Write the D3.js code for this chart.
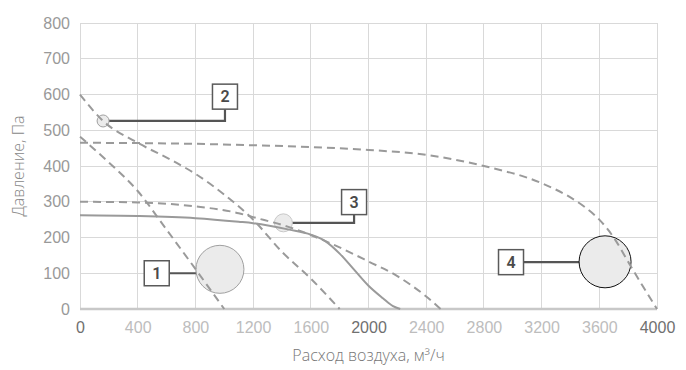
<!DOCTYPE html>
<html><head><meta charset="utf-8">
<script src="https://cdn.jsdelivr.net/npm/d3@7"></script>
<style>
body{margin:0;background:#fff;}
svg{display:block;font-family:"Open Sans","Noto Sans",sans-serif;}
</style></head>
<body><svg id="c" width="686" height="370"></svg>
<script>
// ---- data ----
const xTicks = [0,400,800,1200,1600,2000,2400,2800,3200,3600,4000];
const yTicks = [0,100,200,300,400,500,600,700,800];
const xTitle = "Расход воздуха, м³/ч";
const yTitle = "Давление, Па";

const c1X = [0,200,400,600,800,1000];
const c1Y = [482,410,330,222,112,0];
const c2X = [0,160,400,660,800,1000,1200,1400,1600,1800];
const c2Y = [600,526,465,411,378,320,250,160,85,0];
const c3X = [0,400,800,1100,1200,1450,1730,2000,2200,2400,2500];
const c3Y = [300,298,287,268,257,229,185,133,92,35,0];
const c4X = [0,800,1200,1600,2000,2400,2800,3200,3400,3500,3600,3700,3800,3900,4000];
const c4Y = [465,462,458,453,445,431,400,352,312,285,250,200,132,65,0];
const sX = [0,400,800,1100,1200,1450,1600,1700,1800,1900,2000,2100,2170,2220];
const sY = [262,260,254,244,240,222,208,190,155,110,65,30,8,0];

const markerLabels = ["1","2","3","4"];
const markerX = [970,160,1410,3640];
const markerY = [111,526,241,132];
const markerSize = [24,6,9,26];
const labelX = [532,1005,1900,2988];
const labelY = [100,594,299,131];

// ---- chart ----
const svg = d3.select("#c");
const x = d3.scaleLinear().domain([0,4000]).range([80,657]);
const y = d3.scaleLinear().domain([0,800]).range([309,23]);

// grid
svg.append("g").selectAll("line").data(yTicks.filter(d=>d>0)).join("line")
  .attr("x1",x(0)).attr("x2",x(4000)).attr("y1",d=>y(d)).attr("y2",d=>y(d))
  .attr("stroke","#d9d9d9").attr("stroke-width",1).attr("shape-rendering","crispEdges");
svg.append("g").selectAll("line").data(xTicks).join("line")
  .attr("x1",d=>x(d)).attr("x2",d=>x(d)).attr("y1",y(0)).attr("y2",y(800))
  .attr("stroke","#d9d9d9").attr("stroke-width",1).attr("shape-rendering","crispEdges");

// axes labels via d3 axes
const yAxis = svg.append("g").attr("transform",`translate(${x(0)},0)`)
  .call(d3.axisLeft(y).tickValues(yTicks).tickSize(0).tickPadding(10));
yAxis.select(".domain").remove();
yAxis.selectAll("text").attr("font-size",16).attr("fill","#999").attr("font-weight",300);

const xAxis = svg.append("g").attr("transform",`translate(0,${y(0)})`)
  .call(d3.axisBottom(x).tickValues(xTicks).tickSize(0).tickPadding(13).tickFormat(d=>d));
xAxis.select(".domain").remove();
xAxis.selectAll("text").attr("font-size",16).attr("font-weight",300)
  .attr("fill",d=>(d%2000===0)?"#707070":"#bdbdbd");

// baseline
svg.append("line").attr("x1",x(0)).attr("x2",x(4000)).attr("y1",y(0)).attr("y2",y(0))
  .attr("stroke","#c8c8c8").attr("stroke-width",2.5);

// titles
svg.append("text").attr("x",(x(0)+x(4000))/2).attr("y",361).attr("text-anchor","middle")
  .attr("font-size",16).attr("font-weight",300).attr("fill","#777").text(xTitle);
svg.append("text").attr("transform",`translate(24,${(y(0)+y(800))/2}) rotate(-90)`)
  .attr("text-anchor","middle").attr("font-size",16).attr("font-weight",300)
  .attr("fill","#888").text(yTitle);

// connectors and boxes
const markers = markerLabels.map((l,i)=>({l, mx:x(markerX[i]), my:y(markerY[i]), r:markerSize[i], bx:x(labelX[i]), by:y(labelY[i])}));
const bs = 25;
markers.forEach(m=>{
  let p;
  if (Math.abs(m.by-m.my) < 8) {
    p = `M${m.bx + (m.mx>m.bx? bs/2 : -bs/2)},${m.by}H${m.mx}`;
  } else {
    p = `M${m.mx},${m.my}H${m.bx}V${m.by+bs/2}`;
  }
  svg.append("path").attr("d",p).attr("fill","none").attr("stroke","#555").attr("stroke-width",2.2);
});
svg.append("g").selectAll("circle").data(markers).join("circle")
  .attr("cx",d=>d.mx).attr("cy",d=>d.my).attr("r",d=>d.r)
  .attr("fill","#ebebeb")
  .attr("stroke",(d,i)=>i===3?"#111":(i===2?"#c8c8c8":"#a0a0a0"))
  .attr("stroke-width",1);
const bg = svg.append("g").selectAll("g").data(markers).join("g")
  .attr("transform",d=>`translate(${d.bx},${d.by})`);
bg.append("rect").attr("x",-bs/2).attr("y",-bs/2).attr("width",bs).attr("height",bs)
  .attr("fill","#fff").attr("stroke","#5a5a5a").attr("stroke-width",1.5);
bg.append("text").attr("text-anchor","middle").attr("dy","0.36em")
  .attr("font-size",16).attr("font-weight",600).attr("fill","#4a4a4a")
  .attr("font-family","Roboto,sans-serif").text(d=>d.l);

// curves
const line = d3.line().x(d=>x(d[0])).y(d=>y(d[1])).curve(d3.curveMonotoneX);
const dashed = [[c1X,c1Y],[c2X,c2Y],[c3X,c3Y],[c4X,c4Y]];
dashed.forEach(([xs,ys])=>{
  svg.append("path").datum(xs.map((v,i)=>[v,ys[i]])).attr("d",line)
    .attr("fill","none").attr("stroke","#9a9a9a").attr("stroke-width",2)
    .attr("stroke-dasharray","8,5");
});
svg.append("path").datum(sX.map((v,i)=>[v,sY[i]])).attr("d",line)
  .attr("fill","none").attr("stroke","#9a9a9a").attr("stroke-width",2);
</script></body></html>
